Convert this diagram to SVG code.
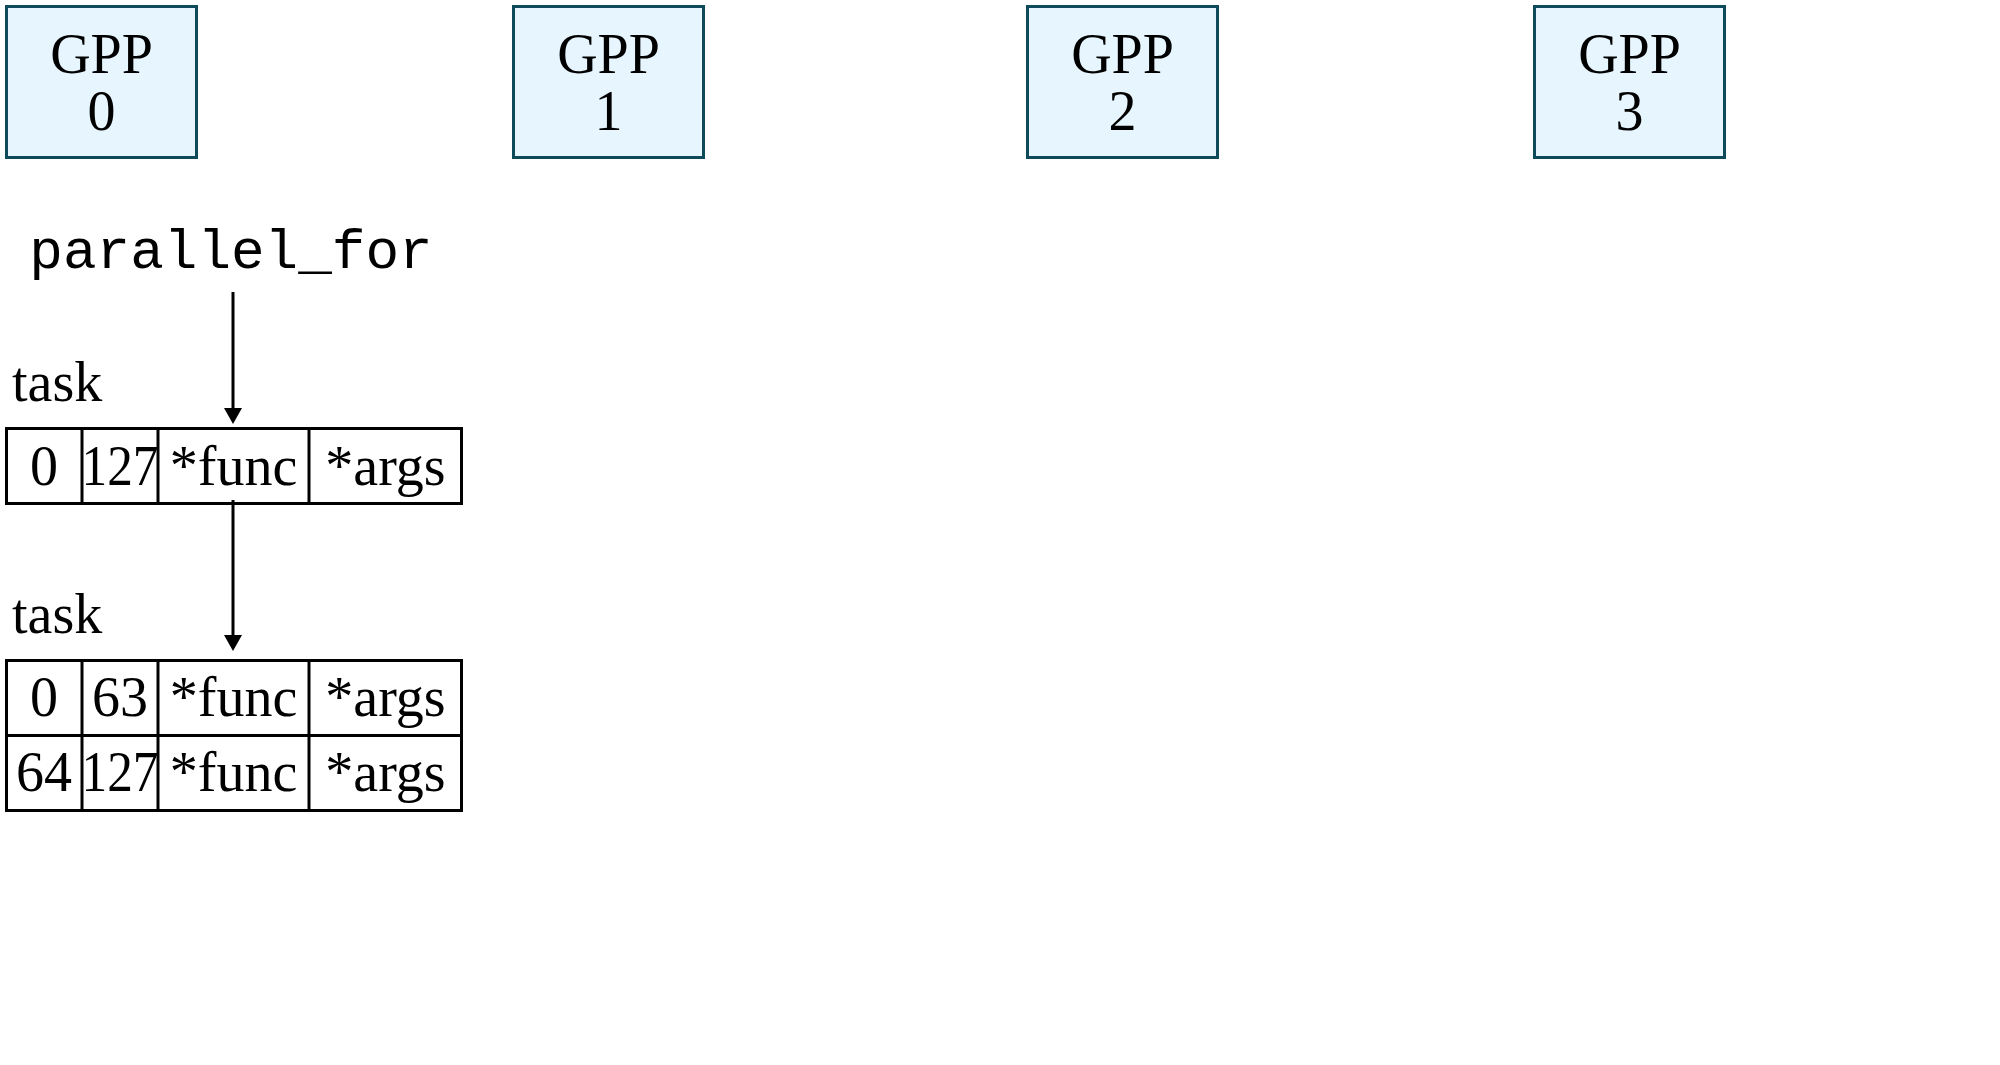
<svg xmlns="http://www.w3.org/2000/svg" width="2000" height="1065" viewBox="0 0 2000 1065">
<defs>
<style>
.gpp{fill:#e6f5fe;stroke:#0e4a5a;stroke-width:3}
.t{font-family:"Liberation Serif","Times New Roman",serif;font-size:56px;fill:#000}
.c{text-anchor:middle}
.mono{font-family:"Liberation Mono","Courier New",monospace;font-size:56px;fill:#000;text-anchor:middle}
.cell{fill:#fff;stroke:#000;stroke-width:3}
.conn{stroke:#000;stroke-width:3;fill:none}
</style>
</defs>
<rect width="2000" height="1065" fill="#fff"/>
<g id="gpp0"><rect class="gpp" x="6.5" y="6.5" width="190" height="151"/><text class="t c" x="101.5" y="73">GPP</text><text class="t c" x="101.5" y="130">0</text></g>
<g id="gpp1"><rect class="gpp" x="513.5" y="6.5" width="190" height="151"/><text class="t c" x="608.5" y="73">GPP</text><text class="t c" x="608.5" y="130">1</text></g>
<g id="gpp2"><rect class="gpp" x="1027.5" y="6.5" width="190" height="151"/><text class="t c" x="1122.5" y="73">GPP</text><text class="t c" x="1122.5" y="130">2</text></g>
<g id="gpp3"><rect class="gpp" x="1534.5" y="6.5" width="190" height="151"/><text class="t c" x="1629.5" y="73">GPP</text><text class="t c" x="1629.5" y="130">3</text></g>
<g id="parallel_for"><text class="mono" x="231" y="268">parallel_for</text></g>
<g id="task1">
<text class="t" x="12" y="401">task</text>
<rect class="cell" x="6.5" y="428.5" width="455" height="75"/>
<line class="cell" x1="82" y1="428.5" x2="82" y2="503.5"/>
<line class="cell" x1="158" y1="428.5" x2="158" y2="503.5"/>
<line class="cell" x1="309" y1="428.5" x2="309" y2="503.5"/>
<text class="t c" x="44" y="485">0</text>
<text class="t c" x="120" y="485" textLength="77" lengthAdjust="spacingAndGlyphs">127</text>
<text class="t c" x="233.5" y="485">*func</text>
<text class="t c" x="385.5" y="485">*args</text>
</g>
<g id="task2">
<text class="t" x="12" y="633">task</text>
<rect class="cell" x="6.5" y="660.5" width="455" height="150"/>
<line class="cell" x1="6.5" y1="735.5" x2="461.5" y2="735.5"/>
<line class="cell" x1="82" y1="660.5" x2="82" y2="810.5"/>
<line class="cell" x1="158" y1="660.5" x2="158" y2="810.5"/>
<line class="cell" x1="309" y1="660.5" x2="309" y2="810.5"/>
<text class="t c" x="44" y="716">0</text>
<text class="t c" x="120" y="716">63</text>
<text class="t c" x="233.5" y="716">*func</text>
<text class="t c" x="385.5" y="716">*args</text>
<text class="t c" x="44" y="791">64</text>
<text class="t c" x="120" y="791" textLength="77" lengthAdjust="spacingAndGlyphs">127</text>
<text class="t c" x="233.5" y="791">*func</text>
<text class="t c" x="385.5" y="791">*args</text>
</g>
<g id="connectors">
<line class="conn" x1="233" y1="292" x2="233" y2="408"/>
<polygon points="224,408 242,408 233,424" fill="#000"/>
<line class="conn" x1="233" y1="500" x2="233" y2="635"/>
<polygon points="224,635 242,635 233,651" fill="#000"/>
</g>
</svg>
